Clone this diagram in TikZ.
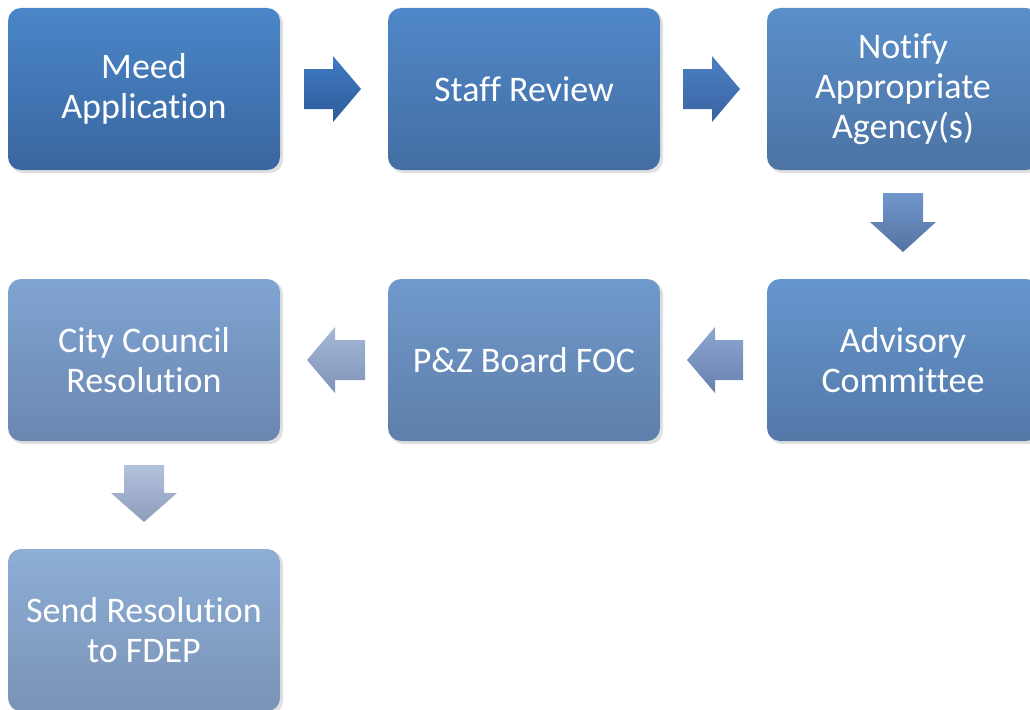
\documentclass[tikz,border=0pt]{standalone}
\usepackage{fontspec}
\setmainfont[Ligatures={NoCommon}]{Carlito}
\usetikzlibrary{calc}
\begin{document}
\begin{tikzpicture}[x=1pt,y=-1pt,
  stepbox/.style={rounded corners=13pt, minimum width=272pt, minimum height=162pt,
    inner sep=0pt, text=white, align=center,
    font=\fontsize{36}{40}\selectfont},
  boxshadow/.style={fill=black, opacity=0.12, rounded corners=13pt},
  blockarr/.style={draw=none}
]
\useasboundingbox (0,0) rectangle (1030,709);
% shadows
\foreach \cx/\cy in {144/89, 524/89, 903/89, 903/360, 524/360, 144/360, 144/630}{
  \fill[boxshadow] ($(\cx,\cy)+(-134,-79)$) rectangle ($(\cx,\cy)+(139,84)$);
}
\node[stepbox, top color={rgb,255:red,74;green,134;blue,200}, bottom color={rgb,255:red,58;green,102;blue,160}] (a) at (144,89) {Meed\\Application};
\node[stepbox, top color={rgb,255:red,79;green,135;blue,200}, bottom color={rgb,255:red,68;green,110;blue,163}] (b) at (524,89) {Staff Review};
\node[stepbox, top color={rgb,255:red,90;green,143;blue,203}, bottom color={rgb,255:red,76;green,115;blue,163}] (c) at (903,89) {Notify\\Appropriate\\Agency(s)};
\node[stepbox, top color={rgb,255:red,102;green,150;blue,206}, bottom color={rgb,255:red,84;green,120;blue,168}] (d) at (903,360) {Advisory\\Committee};
\node[stepbox, top color={rgb,255:red,112;green,153;blue,204}, bottom color={rgb,255:red,94;green,127;blue,170}] (e) at (524,360) {P\&Z Board FOC};
\node[stepbox, top color={rgb,255:red,128;green,164;blue,211}, bottom color={rgb,255:red,106;green,135;blue,176}] (f) at (144,360) {City Council\\Resolution};
\node[stepbox, top color={rgb,255:red,141;green,174;blue,214}, bottom color={rgb,255:red,122;green,147;blue,182}] (g) at (144,630) {Send Resolution\\to FDEP};
% block arrows
\path[blockarr, top color={rgb,255:red,64;green,122;blue,194}, bottom color={rgb,255:red,45;green,92;blue,154}]
  (304,69) -- (333,69) -- (333,56) -- (361,89) -- (333,122) -- (333,109) -- (304,109) -- cycle;
\path[blockarr, top color={rgb,255:red,74;green,128;blue,196}, bottom color={rgb,255:red,58;green,99;blue,160}]
  (683,69) -- (712,69) -- (712,56) -- (740,89) -- (712,122) -- (712,109) -- (683,109) -- cycle;
\path[blockarr, top color={rgb,255:red,111;green,151;blue,204}, bottom color={rgb,255:red,85;green,114;blue,160}]
  (883,193) -- (923,193) -- (923,222) -- (936,222) -- (903,252) -- (870,222) -- (883,222) -- cycle;
\path[blockarr, top color={rgb,255:red,140;green,166;blue,210}, bottom color={rgb,255:red,104;green,128;blue,173}]
  (743,340) -- (715,340) -- (715,327) -- (687,360) -- (715,393) -- (715,380) -- (743,380) -- cycle;
\path[blockarr, top color={rgb,255:red,165;green,184;blue,216}, bottom color={rgb,255:red,127;green,147;blue,184}]
  (365,340) -- (335,340) -- (335,327) -- (307,360) -- (335,393) -- (335,380) -- (365,380) -- cycle;
\path[blockarr, top color={rgb,255:red,179;green,195;blue,222}, bottom color={rgb,255:red,140;green,156;blue,186}]
  (124,465) -- (164,465) -- (164,493) -- (177,493) -- (144,522) -- (111,493) -- (124,493) -- cycle;
\end{tikzpicture}
\end{document}
